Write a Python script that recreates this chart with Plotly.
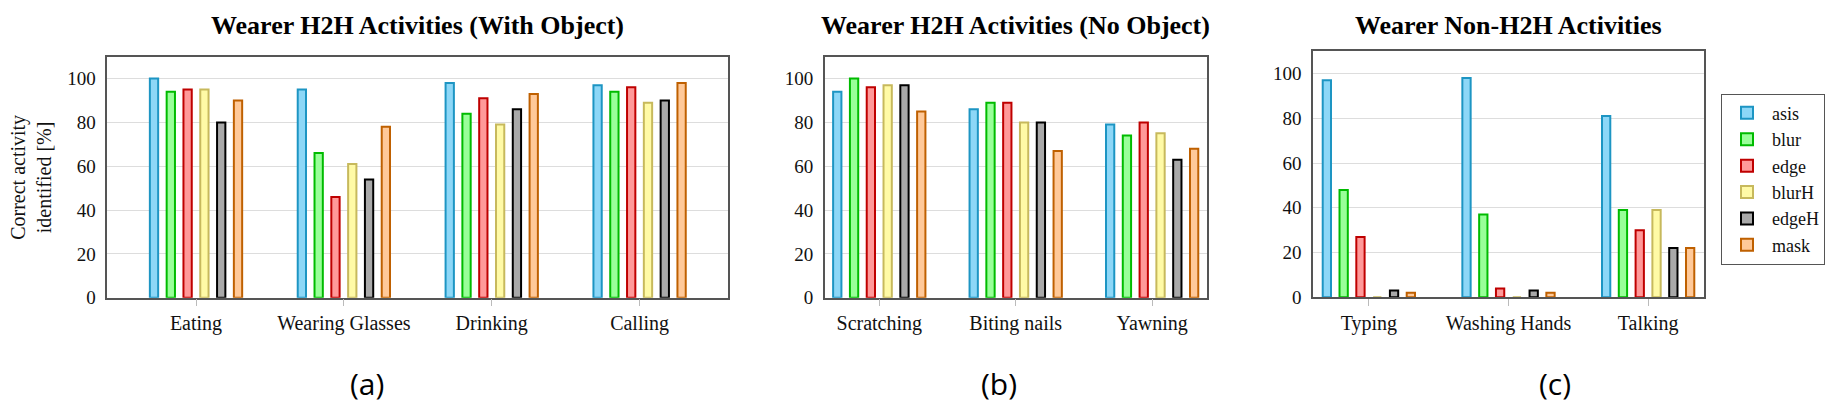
import plotly.graph_objects as go

# ---------------- data ----------------
series_names = ["asis", "blur", "edge", "blurH", "edgeH", "mask"]

cats_a = ["Eating", "Wearing Glasses", "Drinking", "Calling"]
asis_a = [100, 95, 98, 97]
blur_a = [94, 66, 84, 94]
edge_a = [95, 46, 91, 96]
blurH_a = [95, 61, 79, 89]
edgeH_a = [80, 54, 86, 90]
mask_a = [90, 78, 93, 98]

cats_b = ["Scratching", "Biting nails", "Yawning"]
asis_b = [94, 86, 79]
blur_b = [100, 89, 74]
edge_b = [96, 89, 80]
blurH_b = [97, 80, 75]
edgeH_b = [97, 80, 63]
mask_b = [85, 67, 68]

cats_c = ["Typing", "Washing Hands", "Talking"]
asis_c = [97, 98, 81]
blur_c = [48, 37, 39]
edge_c = [27, 4, 30]
blurH_c = [0, 0, 39]
edgeH_c = [3, 3, 22]
mask_c = [2, 2, 22]

y_ticks = [0, 20, 40, 60, 80, 100]

panel_titles = ["Wearer H2H Activities (With Object)",
                "Wearer H2H Activities (No Object)",
                "Wearer Non-H2H Activities"]
panel_labels = ["(a)", "(b)", "(c)"]
y_title = "Correct activity<br>identified [%]"

# ---------------- styles ----------------
fill_colors = ["#8dd7f7", "#99ff99", "#ff9999", "#fffaa6", "#a9a9a9", "#ffc999"]
line_colors = ["#1d95c3", "#00bb00", "#bf0000", "#c7b95c", "#000000", "#bf6000"]

W, H = 1838, 411
SERIF = "Liberation Serif"

# panel geometry in pixels: (left, right, top, bottom), x range
panels = [
    dict(cats=cats_a, vals=[asis_a, blur_a, edge_a, blurH_a, edgeH_a, mask_a],
         box=(99.3, 720.3, 50.0, 297.7), xr=(-0.6, 3.6), label_x=359),
    dict(cats=cats_b, vals=[asis_b, blur_b, edge_b, blurH_b, edgeH_b, mask_b],
         box=(816.7, 1198.7, 50.0, 297.7), xr=(-0.4, 2.4), label_x=991),
    dict(cats=cats_c, vals=[asis_c, blur_c, edge_c, blurH_c, edgeH_c, mask_c],
         box=(1305.0, 1696.0, 44.3, 297.3), xr=(-0.4, 2.4), label_x=1547),
]

PITCH_PX = 16.8
BAR_PX = 8.3

fig = go.Figure()
annotations = []

for p_i, p in enumerate(panels):
    l, r, t, b = p["box"]
    x0, x1 = p["xr"]
    u = (r - l) / (x1 - x0)  # px per category unit
    sfx = "" if p_i == 0 else str(p_i + 1)
    for s_i, name in enumerate(series_names):
        center = (s_i - 2.5) * PITCH_PX / u
        wid = BAR_PX / u
        fig.add_trace(go.Bar(
            x=p["cats"], y=p["vals"][s_i], name=name,
            xaxis="x" + sfx, yaxis="y" + sfx,
            offset=center - wid / 2, width=wid,
            marker=dict(color=fill_colors[s_i],
                        line=dict(color=line_colors[s_i], width=2)),
            legendgroup=name, showlegend=(p_i == 0),
        ))
    xa = dict(domain=[l / W, r / W], range=list(p["xr"]), type="category",
              anchor="y" + sfx, showline=True, mirror=True, linecolor="#555555",
              linewidth=1.5, showgrid=False, ticks="outside", ticklen=7,
              tickcolor="#bbbbbb", tickwidth=1,
              tickfont=dict(family=SERIF, size=20, color="#111111"),
              fixedrange=True)
    ya = dict(domain=[1 - b / H, 1 - t / H], range=[0, 110], anchor="x" + sfx,
              tickvals=y_ticks, showline=True, mirror=True, linecolor="#555555",
              linewidth=1.5, showgrid=True, gridcolor="#dddddd", gridwidth=1,
              zeroline=False, ticks="", ticklabelstandoff=6,
              tickfont=dict(family=SERIF, size=19, color="#111111"),
              fixedrange=True)
    fig.update_layout(**{"xaxis" + sfx: xa, "yaxis" + sfx: ya})

    annotations.append(dict(
        text="<b>" + panel_titles[p_i] + "</b>", xref="paper", yref="paper",
        x=((l + r) / 2) / W, y=1 - 18 / H, xanchor="center", yanchor="middle",
        showarrow=False, font=dict(family=SERIF, size=26, color="#000000")))
    annotations.append(dict(
        text=panel_labels[p_i], xref="paper", yref="paper",
        x=p["label_x"] / W, y=1 - 386 / H, xanchor="center", yanchor="middle",
        showarrow=False, font=dict(family="Open Sans", size=30, color="#000000")))

annotations.append(dict(
    text=y_title, xref="paper", yref="paper", x=23.5 / W, y=1 - 174 / H,
    xanchor="center", yanchor="middle", textangle=-90, showarrow=False,
    font=dict(family=SERIF, size=20, color="#111111")))

fig.update_layout(
    width=W, height=H, margin=dict(l=0, r=0, t=0, b=0),
    paper_bgcolor="white", plot_bgcolor="white",
    barmode="overlay",
    font=dict(family=SERIF, size=19, color="#111111"),
    annotations=annotations,
    legend=dict(x=1713 / W, y=1 - 88 / H, xanchor="left", yanchor="top",
                bgcolor="white", bordercolor="#555555", borderwidth=1,
                font=dict(family=SERIF, size=18, color="#111111"),
                tracegroupgap=0, itemwidth=40),
)

fig.write_html("out.html")
